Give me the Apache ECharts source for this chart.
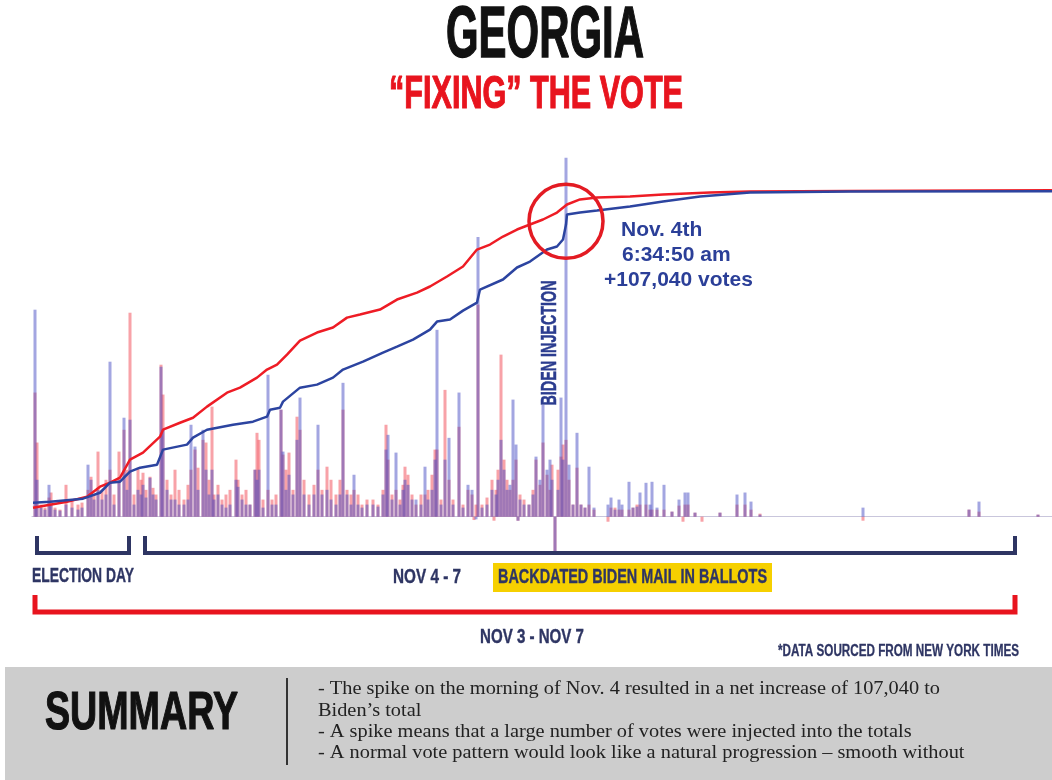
<!DOCTYPE html>
<html>
<head>
<meta charset="utf-8">
<title>Georgia - fixing the vote</title>
<script src="https://cdn.jsdelivr.net/npm/echarts@6/dist/echarts.min.js"></script>
<style>
html, body { margin: 0; padding: 0; background: #fff; }
#myChart { width: 1052px; height: 780px; }
</style>
</head>
<body>
<div id="myChart"></div>
<script>
// cumulative totals (thousand votes) by report number
var trumpReport = [0.5, 9, 17.5, 27.5, 34, 39, 44, 49, 55.5, 64, 65.5, 74, 80.5, 87.5, 97.5, 104, 112.5, 117.5, 122.5, 127.5,
    134, 142.5, 150.5, 157.5, 164, 174, 182.5, 192.5, 199, 207.5, 215.5, 222.5, 229, 235.5, 242.5, 249, 255.5, 262.5, 267.5, 274,
    282.5, 299, 315.5, 339, 359, 409, 510];
var trumpTotal = [68, 91, 114, 152, 228, 258, 296, 433, 486, 607, 660, 713, 751, 835, 941, 979, 1055, 1116, 1154, 1230,
    1336, 1397, 1435, 1510, 1533, 1571, 1647, 1700, 1746, 1822, 1898, 2026, 2064, 2125, 2178, 2216, 2254, 2307, 2368, 2406,
    2421, 2429, 2444, 2459, 2467, 2471, 2476];
var bidenReport = [0.5, 9, 25.5, 34, 39, 44, 49, 54, 62.5, 65.5, 77.5, 80.5, 87.5, 100.5, 110.5, 117.5, 119, 124, 125.5, 134,
    142.5, 150.5, 155.5, 165.5, 175.5, 182.5, 190.5, 199, 202.5, 209, 215.5, 222.5, 224, 235.5, 242.5, 249, 257.5, 262.5, 265.5, 267,
    267.5, 274, 282.5, 299, 315.5, 334, 359, 409, 510];
var bidenTotal = [106, 114, 137, 182, 258, 266, 342, 372, 395, 509, 547, 600, 660, 698, 721, 759, 812, 827, 873, 979,
    1002, 1055, 1116, 1176, 1245, 1290, 1343, 1419, 1480, 1495, 1563, 1624, 1723, 1799, 1890, 1935, 2026, 2049, 2102, 2216,
    2292, 2307, 2322, 2353, 2391, 2429, 2459, 2467, 2468];

// votes added per report (thousand votes)
var barReport = [1.5, 2.5, 4.5, 6.5, 8.5, 9.5, 11.5, 14, 17, 20,
    23, 25, 28, 29.5, 31, 33, 35, 37, 39, 41,
    43.5, 46, 47.5, 49, 51, 53, 54.5, 55.5, 57, 59,
    60.5, 62, 64.5, 65.5, 67.5, 69.5, 71.5, 73.5, 76, 78,
    79.5, 81.5, 83, 85.5, 87, 88.5, 90, 91, 93, 95,
    97, 99, 102, 103, 105, 107, 109, 111.5, 112.5, 113.5,
    115.5, 118, 120, 122, 124.5, 125.5, 127, 128.5, 130.5, 132.5,
    134, 136, 138.5, 141, 143, 145, 147.5, 149.5, 152, 154,
    155.5, 157.5, 159.5, 161, 163, 165, 167.5, 170.5, 173, 175.5,
    177, 178, 180, 182, 184, 185.5, 186.5, 188, 190, 192,
    194.5, 196.5, 198, 200, 201.5, 202.5, 204.5, 206.5, 208.5, 210.5,
    213.5, 215.5, 218, 220, 221, 222, 223, 225, 227.5, 230,
    231, 232, 233, 234.5, 236, 237.5, 239, 240.5, 242, 243,
    244, 246, 248.5, 250.5, 252, 254, 255.5, 257.5, 259, 260,
    261.5, 263, 264.5, 265.5, 267, 268.5, 270.5, 272.5, 274.5, 276.5,
    278.5, 281, 288, 289.5, 291.5, 293.5, 295, 298.5, 300.5, 302.5,
    304, 307, 309, 310, 312.5, 316, 320, 323.5, 325.5, 326.5,
    328, 331.5, 335, 344, 352.5, 356.5, 359.5, 364, 415.5, 468.5,
    473.5, 503];
var trumpGain = [37.0, 22.1, 3.6, 2.7, 5.7, 7.2, 2.7, 2.1, 9.5, 5.1,
    3.6, 4.2, 8.0, 11.9, 6.6, 19.4, 8.0, 11.0, 14.0, 6.6,
    19.4, 25.9, 14.0, 60.8, 6.6, 14.6, 11.0, 13.1, 8.0, 11.9,
    8.6, 6.6, 45.3, 36.4, 11.0, 6.6, 14.0, 8.0, 5.1, 9.5,
    14.0, 20.0, 14.6, 22.9, 22.1, 11.0, 32.8, 6.6, 9.5, 5.1,
    6.6, 8.0, 17.0, 11.0, 6.6, 8.0, 3.6, 14.0, 25.0, 22.9,
    5.1, 8.0, 5.1, 6.6, 31.9, 18.5, 14.0, 19.1, 8.0, 29.8,
    25.9, 11.0, 6.6, 9.5, 14.0, 8.0, 14.9, 11.0, 6.6, 11.0,
    31.9, 8.0, 6.6, 8.0, 6.6, 3.6, 5.1, 5.1, 3.6, 8.0,
    27.4, 17.0, 6.6, 8.0, 5.1, 9.5, 14.9, 12.5, 6.6, 3.6,
    6.6, 6.6, 8.0, 12.5, 20.0, 20.0, 5.1, 37.8, 11.0, 5.1,
    26.8, 3.6, 8.0, 6.6, -1.0, 3.6, 63.2, 3.6, 5.7, 11.0,
    -1.2, 8.0, 14.0, 48.3, 17.0, 11.0, 8.0, 11.0, 17.0, -1.2,
    6.6, 5.1, 3.6, 8.0, 17.0, 9.5, 22.1, 12.5, 8.0, 15.5,
    -10.5, 14.0, 17.9, 21.5, 22.9, 11.0, 3.6, 14.6, 3.6, 2.7,
    3.6, 2.1, -1.5, 2.7, 2.7, 2.1, 2.1, 2.1, 2.7, 3.6,
    3.6, 3.6, 2.1, 2.1, 2.1, 2.1, 1.5, 3.3, -1.5, 3.6,
    3.6, 1.2, -1.5, 1.2, 3.6, 3.6, 2.1, 0.9, -1.2, 2.1,
    1.5, 0.6];
var bidenGain = [61.7, 11.0, 2.7, 2.1, 9.5, 3.6, 2.1, 1.8, 3.6, 2.7,
    2.1, 2.7, 15.5, 11.0, 5.1, 8.0, 5.1, 6.6, 46.2, 3.6,
    11.0, 29.5, 8.0, 28.9, 3.6, 8.0, 6.6, 9.5, 5.7, 11.6,
    6.6, 5.1, 44.7, 25.9, 8.0, 5.1, 5.1, 3.6, 3.6, 5.1,
    27.4, 20.9, 8.0, 25.9, 14.0, 6.6, 14.0, 5.1, 6.6, 3.6,
    2.7, 3.6, 11.0, 8.9, 5.1, 3.6, 3.6, 14.0, 11.0, 14.0,
    2.7, 42.3, 3.6, 3.6, 31.9, 19.4, 8.0, 12.5, 6.6, 22.9,
    35.5, 6.6, 3.6, 6.6, 27.4, 6.6, 8.0, 5.1, 3.6, 6.6,
    39.9, 6.6, 3.6, 12.5, 3.6, 2.7, 3.6, 3.6, 3.0, 6.6,
    20.0, 24.4, 5.1, 19.1, 3.6, 8.0, 11.0, 9.5, 5.1, 5.1,
    3.6, 14.9, 5.1, 8.0, 17.0, 55.7, 3.6, 17.0, 23.5, 3.6,
    37.0, 2.7, 9.5, 8.0, 0, -0.8, 83.4, 2.7, 3.6, 8.0,
    0, 6.6, 11.0, 22.9, 14.0, 8.0, 9.5, 34.9, 21.5, -1.2,
    5.1, 3.6, 3.6, 6.6, 17.9, 11.0, 33.4, 14.0, 17.0, 11.0,
    -10.5, 8.0, 35.5, 17.0, 107.0, 15.5, 3.6, 25.0, 3.6, 2.7,
    14.9, 2.7, 3.6, 5.7, 2.1, 5.1, 3.6, 10.4, 2.7, 3.0,
    7.2, 10.1, 3.6, 10.4, 2.7, 9.5, 1.5, 5.1, 0, 7.2,
    7.2, 1.2, 0, 1.2, 6.6, 7.2, 4.5, 0.6, 2.7, 2.1,
    4.5, 0.6];

// the Nov. 4th 6:34:50 am report
var injectionReport = 267;
var injectionTotal = 2240;

var summaryLines = [
    '- The spike on the morning of Nov. 4 resulted in a net increase of 107,040 to',
    'Biden\u2019s total',
    '- A spike means that a large number of votes were injected into the totals',
    '- A normal vote pattern would look like a natural progression \u2013 smooth without'
];

var navy = '#2e3563';
var red = '#e8141e';
var annBlue = '#2b3f98';

function pairs(xs, ys) {
    return xs.map(function (x, i) { return [x, ys[i]]; });
}

// squeeze a text horizontally to the width it takes on the poster
var measureCtx = document.createElement('canvas').getContext('2d');
function squeeze(text, font, width) {
    measureCtx.font = font;
    return width / measureCtx.measureText(text).width;
}
function posterText(text, x, y, size, width, color, align, heavy) {
    var font = 'bold ' + size + 'px "Liberation Sans", Arial, sans-serif';
    var style = {
        text: text, font: font, fill: color,
        align: align, textAlign: align,
        verticalAlign: 'middle', textVerticalAlign: 'middle'
    };
    if (heavy) {
        style.stroke = color;
        style.lineWidth = heavy;
    }
    return { type: 'text', x: x, y: y, scaleX: squeeze(text, font, width), silent: true, z: 10, style: style };
}
function plainText(text, x, y, font, color, scaleX) {
    return {
        type: 'text', x: x, y: y, scaleX: scaleX || 1, silent: true, z: 10,
        style: { text: text, font: font, fill: color, align: 'left', textAlign: 'left', verticalAlign: 'middle', textVerticalAlign: 'middle' }
    };
}
function bracket(points, color, width) {
    return { type: 'polyline', silent: true, z: 10, shape: { points: points }, style: { stroke: color, lineWidth: width, fill: null } };
}

var chart = echarts.init(document.getElementById('myChart'));
var opt = {
    backgroundColor: '#ffffff',
    animation: false,
    grid: { left: 32, right: 0, top: 150, bottom: 213 },
    xAxis: {
        type: 'value',
        min: 0,
        max: 510,
        axisLine: { show: true, onZero: true, onZeroAxisIndex: 1, lineStyle: { color: '#c9c6dc', width: 1 } },
        axisTick: { show: false },
        axisLabel: { show: false },
        splitLine: { show: false }
    },
    yAxis: [
        { type: 'value', min: -381, max: 2781, show: false, splitLine: { show: false } },
        { type: 'value', min: -15, max: 109.3, show: false, splitLine: { show: false } }
    ],
    series: [
        {
            name: 'Trump gain',
            type: 'bar',
            yAxisIndex: 1,
            barWidth: 3,
            barGap: '-100%',
            silent: true,
            data: pairs(barReport, trumpGain),
            itemStyle: { color: 'rgba(242,70,82,0.5)' }
        },
        {
            name: 'Biden gain',
            type: 'bar',
            yAxisIndex: 1,
            barWidth: 3,
            barGap: '-100%',
            silent: true,
            data: pairs(barReport, bidenGain),
            itemStyle: { color: 'rgba(72,78,196,0.5)' }
        },
        {
            name: 'Trump',
            type: 'line',
            yAxisIndex: 0,
            showSymbol: false,
            silent: true,
            data: pairs(trumpReport, trumpTotal),
            lineStyle: { color: '#ee1c25', width: 2.5 },
            itemStyle: { color: '#ee1c25' }
        },
        {
            name: 'Biden',
            type: 'line',
            yAxisIndex: 0,
            showSymbol: false,
            silent: true,
            data: pairs(bidenReport, bidenTotal),
            lineStyle: { color: '#2c44a0', width: 2.5 },
            itemStyle: { color: '#2c44a0' }
        }
    ]
};
chart.setOption(opt);

// circle round the jump, placed from the data
var c = chart.convertToPixel({ xAxisIndex: 0, yAxisIndex: 0 }, [injectionReport, injectionTotal]);

var summaryFont = '19px "Liberation Serif", "Times New Roman", serif';
var summaryScale = squeeze(summaryLines[0], summaryFont, 622);
var summaryY = [689, 711, 732, 753];

var graphics = [
    posterText('GEORGIA', 545, 37, 72, 198, '#111111', 'center', 1.5),
    posterText('\u201CFIXING\u201D THE VOTE', 536, 95, 47, 294, red, 'center', 1.2),
    { type: 'circle', silent: true, z: 10, shape: { cx: c[0], cy: c[1], r: 37 }, style: { fill: null, stroke: '#e31b23', lineWidth: 3.5 } },
    Object.assign(posterText('BIDEN INJECTION', 550, 343, 22, 125, '#2b3c8f', 'center', 0.5), { rotation: Math.PI / 2 }),
    plainText('Nov. 4th', 621, 230, 'bold 21px "Liberation Sans", Arial, sans-serif', annBlue),
    plainText('6:34:50 am', 622, 255, 'bold 21px "Liberation Sans", Arial, sans-serif', annBlue),
    plainText('+107,040 votes', 604, 280, 'bold 21px "Liberation Sans", Arial, sans-serif', annBlue),
    bracket([[37, 536], [37, 553], [129, 553], [129, 536]], navy, 4),
    bracket([[145, 536], [145, 553], [1015, 553], [1015, 536]], navy, 4),
    bracket([[35, 595], [35, 612], [1015, 612], [1015, 595]], red, 5),
    posterText('ELECTION DAY', 32, 576, 21, 102, navy, 'left', 0.4),
    posterText('NOV 4 - 7', 393, 577, 21, 68, navy, 'left', 0.4),
    { type: 'rect', silent: true, z: 9, shape: { x: 493, y: 563, width: 279, height: 29 }, style: { fill: '#f6d000' } },
    posterText('BACKDATED BIDEN MAIL IN BALLOTS', 498, 577, 21, 269, navy, 'left', 0.4),
    posterText('NOV 3 - NOV 7', 480, 637, 21, 104, navy, 'left', 0.4),
    posterText('*DATA SOURCED FROM NEW YORK TIMES', 1019, 652, 16, 241, navy, 'right', 0.3),
    { type: 'rect', silent: true, z: 9, shape: { x: 5, y: 667, width: 1047, height: 113 }, style: { fill: '#cdcdcd' } },
    posterText('SUMMARY', 45, 714, 53, 193, '#111111', 'left', 1.2),
    { type: 'line', silent: true, z: 10, shape: { x1: 287, y1: 678, x2: 287, y2: 765 }, style: { stroke: '#333333', lineWidth: 2 } }
];
summaryLines.forEach(function (line, i) {
    graphics.push(plainText(line, 318, summaryY[i], summaryFont, '#222222', summaryScale));
});

chart.setOption({ graphic: graphics });

window.addEventListener('resize', function () {
    chart.resize();
});
</script>
</body>
</html>
